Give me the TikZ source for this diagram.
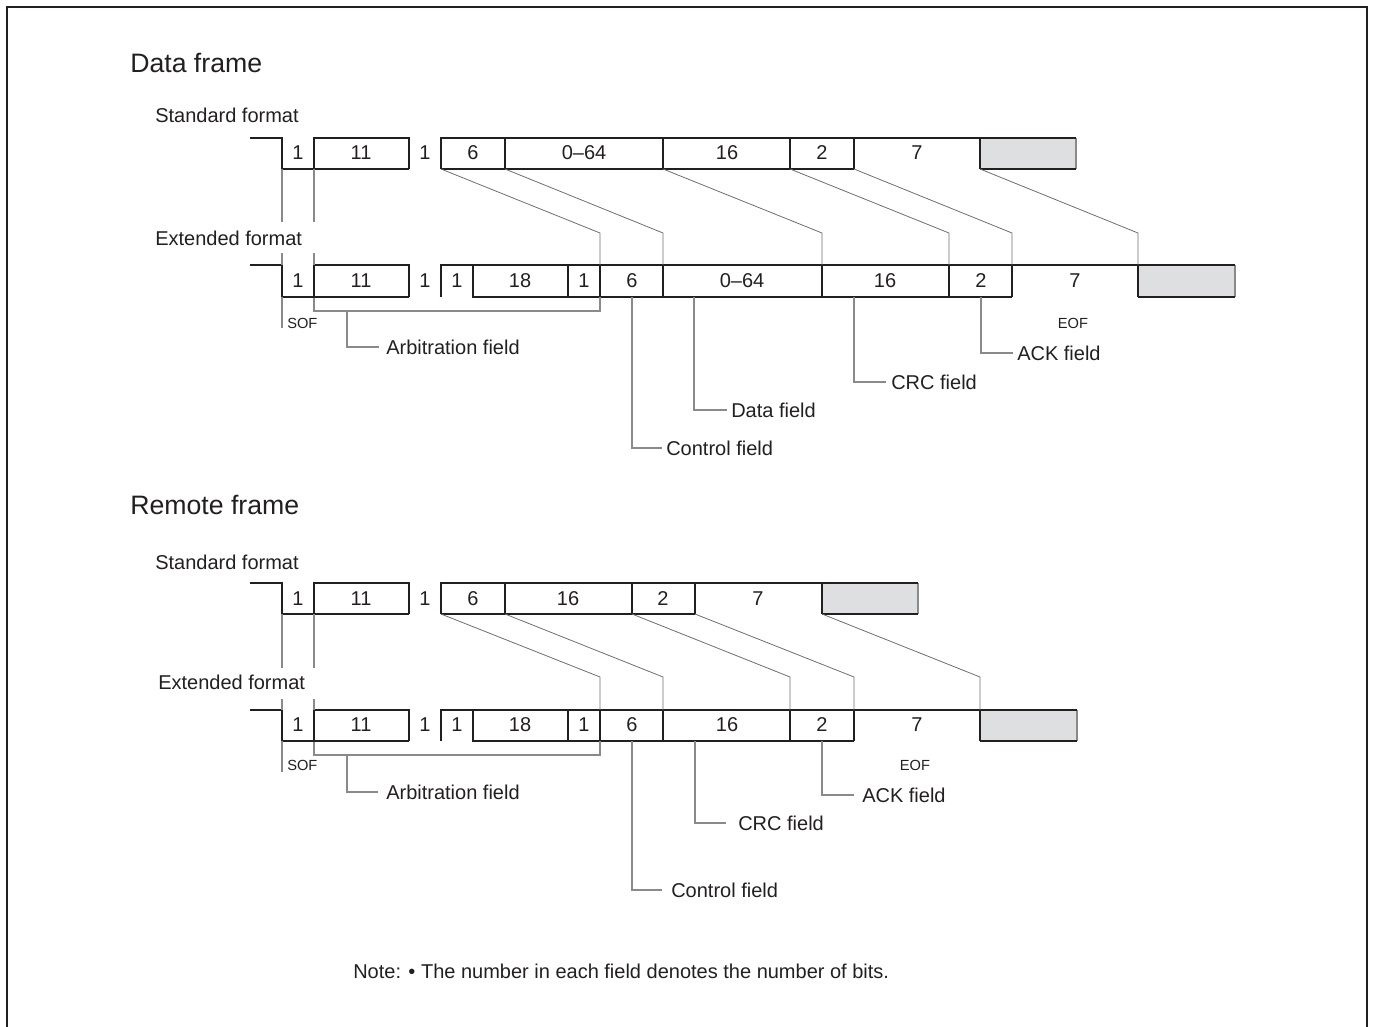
\documentclass[tikz,border=0pt]{standalone}
\usepackage{fontspec}
\setmainfont{Liberation Sans}
\definecolor{txt}{HTML}{231F20}
\definecolor{wavec}{HTML}{231F20}
\definecolor{shade}{HTML}{DEDFE0}
\definecolor{connc}{HTML}{6E6E6E}
\definecolor{leadc}{HTML}{8A8A8A}
\tikzset{
  wave/.style={draw=wavec, line width=1.5pt, line join=miter},
  shadebox/.style={fill=shade, draw=none},
  conn/.style={draw=connc, line width=0.6pt},
  lead/.style={draw=leadc, line width=0.9pt},
  num/.style={font=\fontsize{15}{18}\selectfont, text=txt, inner sep=0pt},
  lbl/.style={font=\fontsize{15}{18}\selectfont, text=txt, inner sep=0pt, anchor=west},
  small/.style={font=\fontsize{11}{13}\selectfont, text=txt, inner sep=0pt},
  ttl/.style={font=\fontsize{20}{24}\selectfont, text=txt, inner sep=0pt, anchor=west},
}
\begin{document}
\begin{tikzpicture}[x=0.75pt, y=-0.75pt]
\useasboundingbox (0,0) rectangle (1374,1027);
% frame
\draw[draw=wavec, line width=1.5pt] (7,1027) -- (7,7) -- (1367,7) -- (1367,1027);

% titles
\node[ttl] (t1) at (130,63) {Data frame};
\node[lbl] (t2) at (155,115) {Standard format};
\node[lbl] (t3) at (155,238) {Extended format};
\node[ttl] (t4) at (130,505) {Remote frame};
\node[lbl] (t5) at (155,562) {Standard format};
\node[lbl] (t6) at (158,682) {Extended format};
\node[lbl] (note) at (353,971) {Note: \textbullet\ The number in each field denotes the number of bits.};

%% ===== Data frame, standard (T=138,B=169)
\fill[shadebox] (980,138) rectangle (1076,169);
\draw[draw=leadc, line width=0.8pt] (1076,138) -- (1076,169);
\draw[wave] (250,138) -- (282,138) -- (282,169) -- (409,169);
\draw[wave] (314,169) -- (314,138) -- (409,138) -- (409,169);
\draw[wave] (441,169) -- (441,138) -- (1076,138);
\draw[wave] (441,169) -- (854,169);
\draw[wave] (980,169) -- (1076,169);
\foreach \x in {505,663,790,854,980} \draw[wave] (\x,138) -- (\x,169);
\node[num] at (298,153) {1};
\node[num] at (361,153) {11};
\node[num] at (425,153) {1};
\node[num] at (473,153) {6};
\node[num] at (584,153) {0\textendash64};
\node[num] at (727,153) {16};
\node[num] at (822,153) {2};
\node[num] at (917,153) {7};

%% ===== Data frame, extended (T=265,B=297)
\fill[shadebox] (1138,265) rectangle (1235,297);
\draw[draw=leadc, line width=0.8pt] (1235,265) -- (1235,297);
\draw[wave] (250,265) -- (282,265) -- (282,297) -- (409,297);
\draw[wave] (314,297) -- (314,265) -- (409,265) -- (409,297);
\draw[wave] (441,297) -- (441,265) -- (1235,265);
\draw[wave] (473,265) -- (473,297) -- (1012,297);
\draw[wave] (1138,297) -- (1235,297);
\foreach \x in {568,600,663,822,949,1012,1138} \draw[wave] (\x,265) -- (\x,297);
\node[num] at (298,281) {1};
\node[num] at (361,281) {11};
\node[num] at (425,281) {1};
\node[num] at (457,281) {1};
\node[num] at (520,281) {18};
\node[num] at (584,281) {1};
\node[num] at (632,281) {6};
\node[num] at (742,281) {0\textendash64};
\node[num] at (885,281) {16};
\node[num] at (981,281) {2};
\node[num] at (1075,281) {7};

% connectors standard -> extended
\foreach \a/\b in {441/600,505/663,663/822,790/949,854/1012,980/1138}
  \draw[conn] (\a,169) -- (\b,233) -- (\b,265);
\foreach \x in {282,314} {
  \draw[lead] (\x,169) -- (\x,222);
  \draw[lead] (\x,253) -- (\x,265);
}

% labels data
\node[small, anchor=west] (sof1) at (287,323) {SOF};
\draw[lead] (282,297) -- (282,328);
\draw[lead] (314,298) -- (314,311) -- (600,311) -- (600,297);
\node[lbl] (arb1) at (386,347) {Arbitration field};
\draw[lead] (347,311) |- ([xshift=-5.5pt]arb1.west);
\node[lbl] (ctl1) at (666,448) {Control field};
\draw[lead] (632,297) |- ([xshift=-3pt]ctl1.west);
\node[lbl] (dat1) at (731,410) {Data field};
\draw[lead] (694,297) |- ([xshift=-3pt]dat1.west);
\node[lbl] (crc1) at (891,382) {CRC field};
\draw[lead] (854,297) |- ([xshift=-3.5pt]crc1.west);
\node[lbl] (ack1) at (1017,353) {ACK field};
\draw[lead] (981,297) |- ([xshift=-3pt]ack1.west);
\node[small] (eof1) at (1073,323) {EOF};

%% ===== Remote frame, standard (T=583,B=614)
\fill[shadebox] (822,583) rectangle (918,614);
\draw[draw=leadc, line width=0.8pt] (918,583) -- (918,614);
\draw[wave] (250,583) -- (282,583) -- (282,614) -- (409,614);
\draw[wave] (314,614) -- (314,583) -- (409,583) -- (409,614);
\draw[wave] (441,614) -- (441,583) -- (918,583);
\draw[wave] (441,614) -- (695,614);
\draw[wave] (822,614) -- (918,614);
\foreach \x in {505,632,695,822} \draw[wave] (\x,583) -- (\x,614);
\node[num] at (298,599) {1};
\node[num] at (361,599) {11};
\node[num] at (425,599) {1};
\node[num] at (473,599) {6};
\node[num] at (568,599) {16};
\node[num] at (663,599) {2};
\node[num] at (758,599) {7};

%% ===== Remote frame, extended (T=710,B=741)
\fill[shadebox] (980,710) rectangle (1077,741);
\draw[draw=leadc, line width=0.8pt] (1077,710) -- (1077,741);
\draw[wave] (250,710) -- (282,710) -- (282,741) -- (409,741);
\draw[wave] (314,741) -- (314,710) -- (409,710) -- (409,741);
\draw[wave] (441,741) -- (441,710) -- (1077,710);
\draw[wave] (473,710) -- (473,741) -- (854,741);
\draw[wave] (980,741) -- (1077,741);
\foreach \x in {568,600,663,790,854,980} \draw[wave] (\x,710) -- (\x,741);
\node[num] at (298,725) {1};
\node[num] at (361,725) {11};
\node[num] at (425,725) {1};
\node[num] at (457,725) {1};
\node[num] at (520,725) {18};
\node[num] at (584,725) {1};
\node[num] at (632,725) {6};
\node[num] at (727,725) {16};
\node[num] at (822,725) {2};
\node[num] at (917,725) {7};

\foreach \a/\b in {441/600,505/663,632/790,695/854,822/980}
  \draw[conn] (\a,614) -- (\b,677) -- (\b,710);
\foreach \x in {282,314} {
  \draw[lead] (\x,614) -- (\x,668);
  \draw[lead] (\x,699) -- (\x,710);
}

\node[small, anchor=west] (sof2) at (287,765) {SOF};
\draw[lead] (282,741) -- (282,772);
\draw[lead] (314,742) -- (314,755) -- (600,755) -- (600,741);
\node[lbl] (arb2) at (386,792) {Arbitration field};
\draw[lead] (347,755) |- ([xshift=-6pt]arb2.west);
\node[lbl] (ctl2) at (671,890) {Control field};
\draw[lead] (632,741) |- ([xshift=-7pt]ctl2.west);
\node[lbl] (crc2) at (738,823) {CRC field};
\draw[lead] (695,741) |- ([xshift=-9pt]crc2.west);
\node[lbl] (ack2) at (862,795) {ACK field};
\draw[lead] (822,741) |- ([xshift=-6pt]ack2.west);
\node[small] (eof2) at (915,765) {EOF};
\end{tikzpicture}
\end{document}
